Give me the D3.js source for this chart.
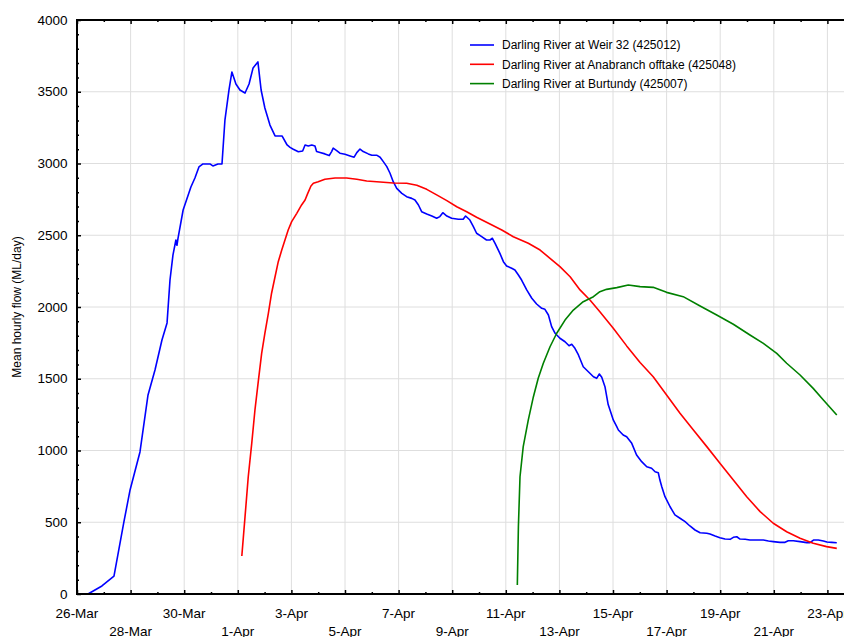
<!DOCTYPE html>
<html>
<head>
<meta charset="utf-8">
<script src="https://cdn.jsdelivr.net/npm/d3@7"></script>
<style>
  html, body { margin: 0; padding: 0; background: #fff; }
  svg { display: block; font-family: "Liberation Sans", Arial, sans-serif; }
</style>
</head>
<body>
<svg id="chart" width="844" height="637"></svg>
<script>
// ---- data (days since 26-Mar 00:00, flow in ML/day) ----
const startDate = Date.UTC(2016, 2, 26);
const seriesNames = [
  "Darling River at Weir 32 (425012)",
  "Darling River at Anabranch offtake (425048)",
  "Darling River at Burtundy (425007)"
];
const seriesColors = ["#0000ff", "#ff0000", "#008000"];

const weirDays = [0.41,0.93,1.38,1.75,1.98,2.35,2.65,2.91,3.17,3.36,3.47,3.58,3.69,3.73,3.77,3.96,4.25,4.40,4.55,4.70,4.96,5.07,5.26,5.41,5.52,5.67,5.78,5.93,6.08,6.27,6.42,6.57,6.75,6.87,7.01,7.20,7.39,7.65,7.84,7.95,8.07,8.26,8.42,8.51,8.63,8.76,8.88,8.94,9.07,9.25,9.41,9.50,9.56,9.69,9.81,10.00,10.19,10.34,10.44,10.56,10.68,10.87,11.00,11.18,11.31,11.43,11.56,11.68,11.80,11.93,12.12,12.30,12.49,12.61,12.74,12.86,13.05,13.24,13.42,13.54,13.65,13.80,13.98,14.23,14.41,14.50,14.66,14.79,14.91,15.10,15.28,15.41,15.50,15.60,15.78,15.91,16.03,16.22,16.34,16.47,16.59,16.78,16.97,17.15,17.34,17.46,17.59,17.71,17.84,18.02,18.21,18.36,18.46,18.58,18.71,18.89,19.08,19.27,19.39,19.49,19.58,19.70,19.82,19.95,20.01,20.14,20.20,20.38,20.51,20.70,20.88,21.07,21.26,21.44,21.57,21.69,21.75,21.82,21.94,22.13,22.31,22.50,22.69,22.87,23.06,23.25,23.50,23.62,23.81,23.99,24.18,24.37,24.49,24.62,24.74,24.93,25.11,25.36,25.61,25.80,25.98,26.23,26.42,26.54,26.73,26.98,27.23,27.35,27.48,27.66,27.85,27.98,28.16,28.35];
const weirFlow = [0,56,125,502,725,990,1387,1561,1770,1889,2188,2362,2467,2430,2480,2676,2836,2899,2976,2997,2997,2983,2997,2997,3303,3512,3638,3554,3512,3491,3554,3666,3708,3512,3387,3268,3192,3192,3129,3112,3099,3082,3087,3129,3122,3129,3122,3083,3076,3067,3055,3083,3107,3090,3072,3065,3053,3044,3076,3101,3083,3067,3058,3058,3044,3013,2978,2932,2873,2827,2792,2769,2757,2746,2711,2664,2648,2634,2618,2630,2657,2634,2618,2611,2611,2634,2606,2560,2514,2490,2467,2467,2479,2444,2374,2316,2286,2270,2258,2223,2188,2119,2061,2021,1991,1984,1944,1863,1817,1782,1758,1730,1740,1712,1666,1584,1549,1514,1503,1533,1510,1445,1320,1247,1213,1166,1143,1108,1096,1050,969,922,887,876,852,845,794,748,678,608,551,528,504,474,446,427,423,418,404,392,383,381,395,399,383,381,376,376,376,369,365,360,360,371,371,365,358,358,376,376,369,362,360,357];

const anabranchDays = [6.15,6.27,6.39,6.52,6.64,6.77,6.89,7.01,7.14,7.26,7.39,7.51,7.64,7.76,7.88,8.01,8.20,8.38,8.51,8.61,8.73,8.82,9.00,9.25,9.63,10.06,10.44,10.81,11.31,11.80,12.30,12.68,13.05,13.42,13.80,14.17,14.54,14.91,15.41,15.85,16.28,16.84,17.28,17.65,18.02,18.40,18.77,19.14,19.51,20.01,20.51,21.01,21.50,22.00,22.50,23.00,23.50,23.99,24.49,24.99,25.49,25.98,26.48,26.98,27.47,27.97,28.35];
const anabranchFlow = [265,539,817,1050,1282,1491,1677,1817,1956,2096,2211,2316,2397,2467,2537,2595,2653,2711,2746,2792,2843,2862,2873,2890,2899,2899,2890,2878,2871,2864,2862,2848,2820,2781,2741,2699,2664,2625,2579,2537,2490,2444,2397,2339,2281,2211,2119,2049,1967,1852,1729,1613,1514,1387,1259,1143,1027,911,794,678,574,493,434,388,353,330,318];

const burtundyDays = [16.43,16.47,16.53,16.65,16.84,17.03,17.21,17.40,17.65,17.90,18.21,18.52,18.89,19.27,19.51,19.76,20.14,20.57,21.01,21.50,22.00,22.62,23.25,23.87,24.49,25.11,25.61,26.11,26.48,26.98,27.47,27.85,28.35];
const burtundyFlow = [63,469,817,1027,1213,1375,1503,1608,1723,1817,1909,1979,2037,2072,2107,2123,2135,2153,2142,2137,2102,2072,2007,1944,1880,1805,1747,1677,1608,1526,1433,1352,1247];

const yTicks = [0,500,1000,1500,2000,2500,3000,3500,4000];
const xTickDays = d3.range(0, 29, 2);   // 26-Mar ... 23-Apr
const yLabel = "Mean hourly flow (ML/day)";

// ---- layout ----
const svg = d3.select("#chart");
const L = 77, T = 20, B = 594, dayPx = 26.8;
const R = 852;
const dayToDate = d => new Date(startDate + d * 86400000);
const x = d3.scaleUtc()
  .domain([dayToDate(0), dayToDate((R - L) / dayPx)])
  .range([L, R]);
const y = d3.scaleLinear().domain([0, 4000]).range([B, T]);
const fmt = d3.utcFormat("%-d-%b");

// grid
const grid = svg.append("g");
grid.selectAll(".gx").data(xTickDays.slice(1)).join("line")
  .attr("x1", d => x(dayToDate(d))).attr("x2", d => x(dayToDate(d)))
  .attr("y1", T).attr("y2", B)
  .attr("stroke", "#dedede").attr("stroke-width", 1);
grid.selectAll(".gy").data(yTicks.slice(1, -1)).join("line")
  .attr("x1", L).attr("x2", R)
  .attr("y1", d => y(d)).attr("y2", d => y(d))
  .attr("stroke", "#dedede").attr("stroke-width", 1);

// series
const series = [
  [weirDays, weirFlow],
  [anabranchDays, anabranchFlow],
  [burtundyDays, burtundyFlow]
];
const line = d3.line().x(d => x(dayToDate(d[0]))).y(d => y(d[1]));
series.forEach(([ds, vs], i) => {
  svg.append("path")
    .datum(ds.map((d, k) => [d, vs[k]]))
    .attr("d", line)
    .attr("fill", "none")
    .attr("stroke", seriesColors[i])
    .attr("stroke-width", 1.6)
    .attr("stroke-linejoin", "round");
});

// axes
const minorX = d3.range(1, 30, 1).filter(d => d % 2 === 1).map(dayToDate);
const majorX = xTickDays.map(dayToDate);
const minorY = d3.range(100, 4000, 100).filter(v => v % 500 !== 0);

const axB = svg.append("g").attr("transform", `translate(0,${B})`);
axB.call(d3.axisBottom(x).tickValues(majorX).tickSize(-4).tickFormat(""))
  .call(g => g.select(".domain").remove());
axB.append("g").call(d3.axisBottom(x).tickValues(minorX).tickSize(-2).tickFormat(""))
  .call(g => g.select(".domain").remove());
axB.selectAll("line").attr("stroke", "#000").attr("stroke-width", 1.5);

const axT = svg.append("g").attr("transform", `translate(0,${T})`);
axT.call(d3.axisTop(x).tickValues(majorX).tickSize(-4).tickFormat(""))
  .call(g => g.select(".domain").remove());
axT.append("g").call(d3.axisTop(x).tickValues(minorX).tickSize(-2).tickFormat(""))
  .call(g => g.select(".domain").remove());
axT.selectAll("line").attr("stroke", "#000").attr("stroke-width", 1.5);

const axL = svg.append("g").attr("transform", `translate(${L},0)`);
axL.call(d3.axisLeft(y).tickValues(yTicks).tickSize(-4).tickFormat(""))
  .call(g => g.select(".domain").remove());
axL.append("g").call(d3.axisLeft(y).tickValues(minorY).tickSize(-2).tickFormat(""))
  .call(g => g.select(".domain").remove());
axL.selectAll("line").attr("stroke", "#000").attr("stroke-width", 1.5);

// axis lines
svg.append("line").attr("x1", L).attr("x2", R + 2).attr("y1", B).attr("y2", B)
  .attr("stroke", "#000").attr("stroke-width", 2);
svg.append("line").attr("x1", L).attr("x2", R + 2).attr("y1", T).attr("y2", T)
  .attr("stroke", "#000").attr("stroke-width", 2);
svg.append("line").attr("x1", L).attr("x2", L).attr("y1", T - 1).attr("y2", B + 1)
  .attr("stroke", "#000").attr("stroke-width", 2);

// tick labels
svg.append("g").selectAll("text").data(yTicks).join("text")
  .attr("x", 67.5).attr("y", d => y(d)).attr("dy", "0.35em")
  .attr("text-anchor", "end").attr("font-size", "13.5px").attr("fill", "#000")
  .text(d => d);
svg.append("g").selectAll("text").data(xTickDays).join("text")
  .attr("x", d => x(dayToDate(d)))
  .attr("y", (d, i) => i % 2 === 0 ? 617.5 : 635.5)
  .attr("text-anchor", "middle").attr("font-size", "13.5px").attr("fill", "#000")
  .text(d => fmt(dayToDate(d)));

// y label
svg.append("text")
  .attr("transform", "translate(21,307) rotate(-90)")
  .attr("text-anchor", "middle").attr("font-size", "12px").attr("fill", "#000")
  .text(yLabel);

// legend
const leg = svg.append("g");
seriesNames.forEach((n, i) => {
  const yy = 45 + i * 19.3;
  leg.append("line").attr("x1", 470).attr("x2", 494).attr("y1", yy).attr("y2", yy)
    .attr("stroke", seriesColors[i]).attr("stroke-width", 1.6);
  leg.append("text").attr("x", 502).attr("y", yy).attr("dy", "0.35em")
    .attr("font-size", "12px").attr("fill", "#000").text(n);
});
</script>
</body>
</html>
